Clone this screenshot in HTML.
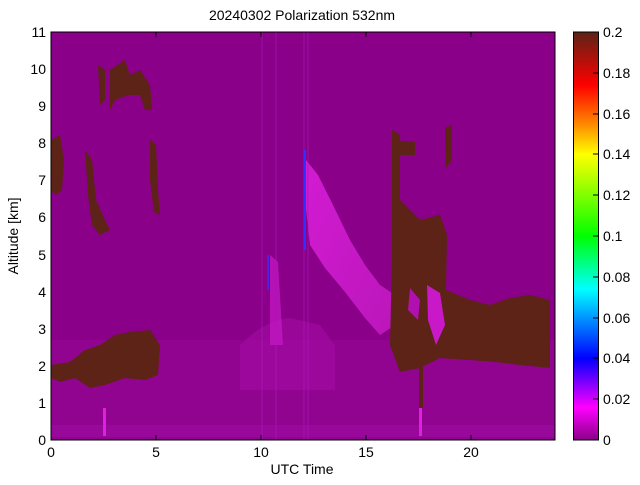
<!DOCTYPE html>
<html><head><meta charset="utf-8"><style>
body{margin:0;background:#fff;}
text{font-family:"Liberation Sans",sans-serif;fill:#000;}
</style></head><body>
<svg width="640" height="480" viewBox="0 0 640 480" xmlns="http://www.w3.org/2000/svg">
<defs>
<linearGradient id="cb" x1="0" y1="1" x2="0" y2="0">
<stop offset="0" stop-color="#8a0088"/>
<stop offset="0.08" stop-color="#ff00ff"/>
<stop offset="0.2" stop-color="#0000ff"/>
<stop offset="0.37" stop-color="#00ffff"/>
<stop offset="0.5" stop-color="#00ff00"/>
<stop offset="0.7" stop-color="#ffff00"/>
<stop offset="0.78" stop-color="#ff8000"/>
<stop offset="0.87" stop-color="#ff0000"/>
<stop offset="1" stop-color="#5c2316"/>
</linearGradient>
<linearGradient id="plume" x1="0" y1="0" x2="1" y2="1">
<stop offset="0" stop-color="#e020e0" stop-opacity="0.85"/>
<stop offset="1" stop-color="#d020d0" stop-opacity="0.7"/>
</linearGradient>
</defs>
<text x="302" y="20" font-size="14" text-anchor="middle">20240302 Polarization 532nm</text>
<rect x="51" y="32" width="504" height="408" fill="#8a0088"/>
<rect x="51" y="340" width="504" height="100" fill="#900490"/>
<rect x="51" y="425" width="504" height="12" fill="#98089a"/>
<!-- haze -->
<path d="M240 345 Q265 320 290 318 L320 325 L335 345 L335 390 L240 390 Z" fill="#a40ca4" opacity="0.6"/>
<!-- plume -->
<path d="M306 160 L318 175 L333 205 L350 240 L365 265 L380 285 L395 295 L395 325 L380 335 L365 318 L345 292 L325 268 L310 245 L305 200 Z" fill="url(#plume)"/>
<path d="M270 255 L278 262 L283 345 L270 345 Z" fill="#c818c8" opacity="0.7"/>
<g stroke="#a818b8" stroke-width="1" opacity="0.7">
<line x1="262" y1="32" x2="262" y2="440"/><line x1="276" y1="32" x2="276" y2="440"/>
<line x1="304" y1="32" x2="304" y2="440"/><line x1="308" y1="32" x2="308" y2="440"/>
</g>
<line x1="305" y1="150" x2="305" y2="250" stroke="#3030ff" stroke-width="2"/>
<line x1="268" y1="255" x2="268" y2="290" stroke="#3030ff" stroke-width="1.5"/>
<g fill="#5c2316">
<path d="M51 140 L60 135 L64 160 L62 190 L56 195 L51 190 Z"/>
<path d="M85 150 L92 160 L96 200 L105 220 L110 230 L100 235 L92 225 L88 195 Z"/>
<path d="M98 65 L105 70 L105 100 L100 105 Z"/>
<path d="M110 70 L125 60 L130 75 L140 70 L150 85 L152 110 L145 110 L140 95 L128 95 L115 100 L110 110 Z"/>
<path d="M150 140 L156 145 L158 190 L160 215 L154 212 L150 180 Z"/>
<path d="M51 365 L70 362 L85 350 L100 345 L115 335 L130 332 L150 330 L160 345 L158 375 L145 380 L125 378 L105 385 L90 388 L75 378 L60 382 L51 378 Z"/>
<!-- right brown -->
<path d="M392 130 L400 135 L400 200 L420 220 L440 215 L447 235 L446 290 L470 300 L490 305 L510 298 L530 295 L550 300 L550 368 L520 365 L495 362 L470 360 L440 358 L420 368 L400 372 L390 345 L392 260 Z"/>
<path d="M395 140 L415 142 L415 155 L398 155 Z"/>
<path d="M445 128 L452 125 L452 160 L446 168 Z"/>
<path d="M419 355 L423 355 L423 408 L419 408 Z"/>
</g>
<path d="M427 285 L440 293 L445 325 L436 345 L428 320 Z" fill="#c818c8"/>
<path d="M410 288 L420 300 L418 320 L408 310 Z" fill="#b010b0"/>
<rect x="103" y="408" width="3" height="28" fill="#e020e0"/>
<rect x="419" y="408" width="3" height="28" fill="#e020e0"/>
<rect x="51" y="32" width="504" height="408" fill="none" stroke="#000" stroke-width="1"/>
<g stroke="#000" stroke-width="1">
<line x1="156" y1="440" x2="156" y2="435"/><line x1="261" y1="440" x2="261" y2="435"/><line x1="366" y1="440" x2="366" y2="435"/><line x1="471" y1="440" x2="471" y2="435"/>
<line x1="156" y1="32" x2="156" y2="37"/><line x1="261" y1="32" x2="261" y2="37"/><line x1="366" y1="32" x2="366" y2="37"/><line x1="471" y1="32" x2="471" y2="37"/>
</g>
<g font-size="14" text-anchor="middle">
<text x="51" y="457">0</text><text x="156" y="457">5</text><text x="261" y="457">10</text><text x="366" y="457">15</text><text x="471" y="457">20</text>
</g>
<text x="302" y="474" font-size="14" text-anchor="middle">UTC Time</text>
<g font-size="14" text-anchor="end">
<text x="46" y="445">0</text><text x="46" y="408">1</text><text x="46" y="371">2</text><text x="46" y="334">3</text><text x="46" y="297">4</text><text x="46" y="260">5</text><text x="46" y="222">6</text><text x="46" y="185">7</text><text x="46" y="148">8</text><text x="46" y="111">9</text><text x="46" y="74">10</text><text x="46" y="37">11</text>
</g>
<text transform="translate(18,236) rotate(-90)" font-size="14" text-anchor="middle">Altitude [km]</text>
<rect x="573.5" y="32" width="25" height="408" fill="url(#cb)" stroke="#000" stroke-width="1"/>
<g stroke="#000">
<line x1="593" y1="399" x2="598" y2="399"/><line x1="593" y1="358" x2="598" y2="358"/><line x1="593" y1="318" x2="598" y2="318"/><line x1="593" y1="277" x2="598" y2="277"/><line x1="593" y1="236" x2="598" y2="236"/><line x1="593" y1="195" x2="598" y2="195"/><line x1="593" y1="154" x2="598" y2="154"/><line x1="593" y1="114" x2="598" y2="114"/><line x1="593" y1="73" x2="598" y2="73"/>
</g>
<g font-size="14">
<text x="603" y="445">0</text><text x="603" y="404">0.02</text><text x="603" y="363">0.04</text><text x="603" y="323">0.06</text><text x="603" y="282">0.08</text><text x="603" y="241">0.1</text><text x="603" y="200">0.12</text><text x="603" y="159">0.14</text><text x="603" y="119">0.16</text><text x="603" y="78">0.18</text><text x="603" y="37">0.2</text>
</g>
</svg>
</body></html>
